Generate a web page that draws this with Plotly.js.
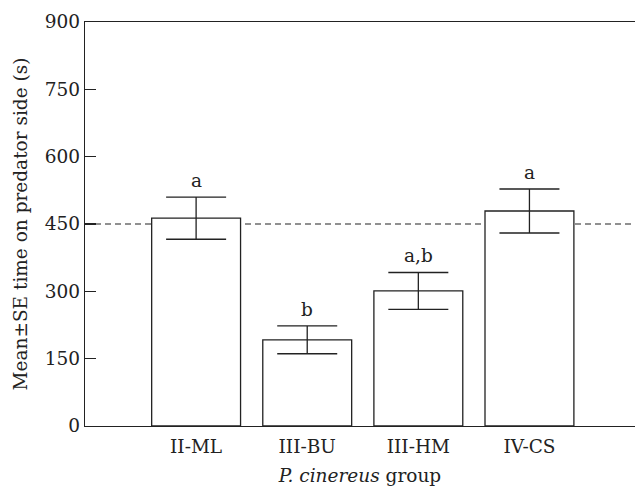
<!DOCTYPE html>
<html>
<head>
<meta charset="utf-8">
<script src="https://cdn.plot.ly/plotly-3.0.1.min.js"></script>
<style>html,body{margin:0;padding:0;background:#fff}#chart{width:635px;height:486px}</style>
</head>
<body>
<div id="chart"></div>
<script>
const groups = ["II-ML", "III-BU", "III-HM", "IV-CS"];
const means = [463, 192, 301, 479];
const se = [47, 31, 41, 49];
const letters = ["a", "b", "a,b", "a"];
const yTicks = [0, 150, 300, 450, 600, 750, 900];
const nullLevel = 450;

const ink = "#222";
const font = {family: "'DejaVu Serif', serif", size: 18.5, color: ink};

const trace = {
  type: "bar",
  x: groups,
  y: means,
  width: 0.8,
  marker: {color: "#ffffff", line: {color: ink, width: 1.3}},
  error_y: {type: "data", array: se, visible: true, color: ink, thickness: 1.3, width: 30},
  hoverinfo: "skip"
};

const annotations = groups.map((g, i) => ({
  x: g, y: means[i] + se[i], xref: "x", yref: "y",
  text: letters[i], showarrow: false, yanchor: "bottom", yshift: 4,
  font: font
}));

const layout = {
  width: 635, height: 486,
  margin: {l: 85, r: 0, t: 22, b: 60},
  paper_bgcolor: "#fff", plot_bgcolor: "#fff",
  font: font,
  showlegend: false,
  xaxis: {
    type: "category",
    range: [-1, 3.95],
    showline: true, mirror: true, linecolor: ink, linewidth: 1.3,
    ticks: "", showgrid: false, zeroline: false,
    tickfont: font,
    ticklabelstandoff: 3,
    title: {text: "<i>P. cinereus</i> group", font: font, standoff: 13}
  },
  yaxis: {
    range: [0, 900],
    tickvals: yTicks,
    ticktext: yTicks.map(String),
    showline: true, linecolor: ink, linewidth: 1.3,
    ticks: "inside", ticklen: 11, tickwidth: 1.3, tickcolor: ink,
    showgrid: false, zeroline: false,
    tickfont: font,
    title: {text: "Mean±SE time on predator side (s)", font: font, standoff: 12}
  },
  shapes: [{
    type: "line", xref: "paper", x0: 0, x1: 1, yref: "y", y0: nullLevel, y1: nullLevel,
    line: {color: ink, width: 1.2, dash: "6px,4px"}, layer: "below"
  }],
  annotations: annotations
};

Plotly.newPlot("chart", [trace], layout, {displayModeBar: false, staticPlot: true});
</script>
</body>
</html>
